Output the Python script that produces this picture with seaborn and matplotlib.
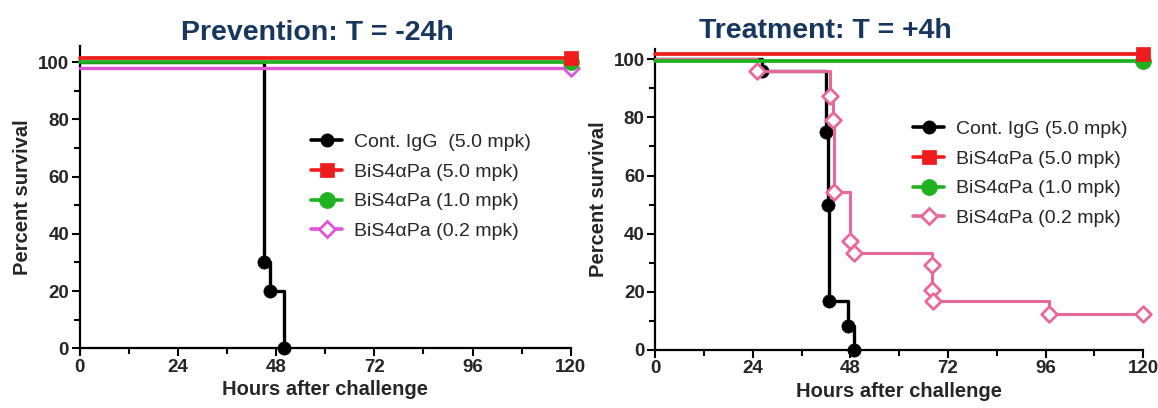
import matplotlib
matplotlib.use("Agg")
import matplotlib.pyplot as plt
from matplotlib.lines import Line2D
from matplotlib.ticker import MultipleLocator
import seaborn as sns
import pandas as pd

sns.set_theme(style="ticks")
plt.rcParams["font.family"] = ["Liberation Sans", "DejaVu Sans"]

# ---------------- data ----------------
titles = ["Prevention: T = -24h", "Treatment: T = +4h"]
xlabel = "Hours after challenge"
ylabel = "Percent survival"
xticks = [0, 24, 48, 72, 96, 120]
yticks = [0, 20, 40, 60, 80, 100]

labels_prev = ["Cont. IgG  (5.0 mpk)", "BiS4αPa (5.0 mpk)",
               "BiS4αPa (1.0 mpk)", "BiS4αPa (0.2 mpk)"]
labels_treat = ["Cont. IgG (5.0 mpk)", "BiS4αPa (5.0 mpk)",
                "BiS4αPa (1.0 mpk)", "BiS4αPa (0.2 mpk)"]

# Prevention (T = -24h)
prev_igg_t = [0, 45.0, 46.6, 50.0]
prev_igg_s = [100, 30, 20, 0]
prev_hi_t = [0, 120]
prev_hi_s = [101.3, 101.3]
prev_mid_t = [0, 120]
prev_mid_s = [100, 100]
prev_lo_t = [0, 120]
prev_lo_s = [97.9, 97.9]

# Treatment (T = +4h)
treat_igg_t = [0, 26.2, 42.0, 42.6, 42.8, 47.5, 48.9]
treat_igg_s = [100, 95.8, 75.0, 50.0, 16.7, 8.3, 0]
treat_hi_t = [0, 120]
treat_hi_s = [101.7, 101.7]
treat_mid_t = [0, 120]
treat_mid_s = [99.3, 99.3]
treat_lo_t = [0, 25.0, 43.0, 43.8, 44.0, 48.0, 48.9, 68.0, 68.2, 68.4, 96.9, 120]
treat_lo_s = [100, 95.8, 87.5, 79.2, 54.2, 37.5, 33.3, 29.2, 20.8, 16.7, 12.5, 12.5]

# ---------------- style ----------------
BLACK = "#000000"
RED = "#ee1c1c"
GREEN = "#1fb11f"
PINK_L = "#e055d5"
PINK_R = "#e8689c"
NAVY = "#17375e"

W, H = 1158, 408
fig = plt.figure(figsize=(W / 100, H / 100), dpi=100)

ax1 = fig.add_axes([79.5 / W, (H - 348.3) / H, 491.3 / W, 302.3 / H])
ax2 = fig.add_axes([655.1 / W, (H - 350.0) / H, 488.0 / W, 300.7 / H])


def km(ax, t, s, color, marker, ms, lw, z, filled=True, skip_first=True):
    df = pd.DataFrame({"t": t, "s": s})
    sns.lineplot(data=df, x="t", y="s", ax=ax, color=color, lw=lw,
                 drawstyle="steps-post", estimator=None, sort=False,
                 zorder=z, clip_on=False)
    pts = df.iloc[1:] if skip_first else df
    if filled:
        sns.scatterplot(data=pts, x="t", y="s", ax=ax, marker=marker,
                        s=ms ** 2, color=color, edgecolor=color,
                        linewidth=0.5, zorder=z + 0.5, clip_on=False)
    else:
        sns.scatterplot(data=pts, x="t", y="s", ax=ax, marker=marker,
                        s=ms ** 2, facecolor="white", edgecolor=color,
                        linewidth=2.0, zorder=z + 0.5, clip_on=False)


# Prevention panel
km(ax1, prev_igg_t, prev_igg_s, BLACK, "o", 9.5, 2.4, 3)
km(ax1, prev_lo_t, prev_lo_s, PINK_L, "D", 8.0, 2.4, 4, filled=False)
km(ax1, prev_mid_t, prev_mid_s, GREEN, "o", 11.5, 2.7, 5)
km(ax1, prev_hi_t, prev_hi_s, RED, "s", 10.5, 2.7, 6)

# Treatment panel
km(ax2, treat_igg_t, treat_igg_s, BLACK, "o", 9.5, 2.4, 3)
km(ax2, treat_lo_t, treat_lo_s, PINK_R, "D", 8.0, 2.2, 4, filled=False)
km(ax2, treat_mid_t, treat_mid_s, GREEN, "o", 11.5, 2.7, 5)
km(ax2, treat_hi_t, treat_hi_s, RED, "s", 10.5, 2.7, 6)

for ax, top in ((ax1, 105.6), (ax2, 103.4)):
    ax.set_xlim(0, 120)
    ax.set_ylim(0, top)
    ax.set_xticks(xticks)
    ax.set_yticks(yticks)
    ax.xaxis.set_minor_locator(MultipleLocator(12))
    ax.yaxis.set_minor_locator(MultipleLocator(10))
    for side in ("top", "right"):
        ax.spines[side].set_visible(False)
    for side in ("left", "bottom"):
        ax.spines[side].set_linewidth(1.6)
        ax.spines[side].set_color("black")
    ax.tick_params(which="major", length=5.5, width=1.5, color="black",
                   labelsize=13.5, pad=2)
    ax.tick_params(which="minor", length=4, width=1.5, color="black")
    for lab in ax.get_xticklabels() + ax.get_yticklabels():
        lab.set_fontweight("bold")
    ax.set_xlabel(xlabel, fontsize=14.5, fontweight="bold", labelpad=3)
    ax.set_ylabel(ylabel, fontsize=14.5, fontweight="bold", labelpad=4)
    ax.set_facecolor("white")

fig.text(317.8 / W, 1 - 39.5 / H, titles[0], fontsize=20.5, fontweight="bold",
         color=NAVY, ha="center", va="baseline")
fig.text(825.0 / W, 1 - 38.3 / H, titles[1], fontsize=20.5, fontweight="bold",
         color=NAVY, ha="center", va="baseline")


def handles(labels, pink):
    specs = [(BLACK, "o", 9.5, BLACK), (RED, "s", 10.5, RED),
             (GREEN, "o", 11.5, GREEN), (pink, "D", 8.0, "white")]
    hs = []
    for (c, m, ms, fc), lab in zip(specs, labels):
        hs.append(Line2D([], [], color=c, lw=2.6, marker=m, markersize=ms,
                         markerfacecolor=fc, markeredgecolor=c,
                         markeredgewidth=2.0 if fc == "white" else 0.5,
                         label=lab))
    return hs


leg_kw = dict(loc="upper left", frameon=False, fontsize=14,
              handlelength=1.6, handletextpad=0.6, labelspacing=0.62,
              borderpad=0, borderaxespad=0, bbox_transform=fig.transFigure)
ax1.legend(handles=handles(labels_prev, PINK_L),
           bbox_to_anchor=(311 / W, 1 - 133.5 / H), **leg_kw)
ax2.legend(handles=handles(labels_treat, PINK_R),
           bbox_to_anchor=(913 / W, 1 - 120.5 / H), **leg_kw)

fig.savefig("out.png", dpi=100, facecolor="white")
